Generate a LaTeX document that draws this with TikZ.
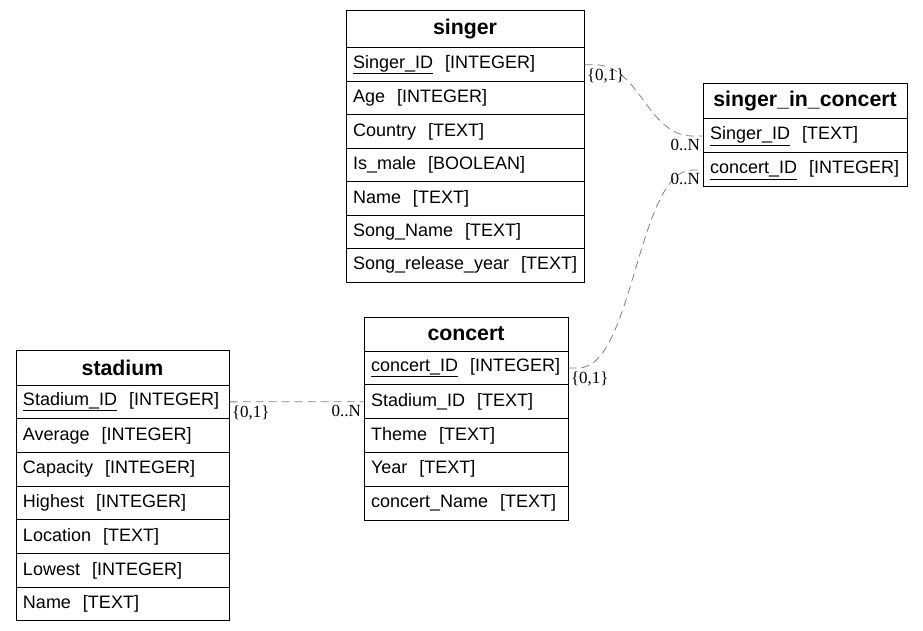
\documentclass[tikz,border=0pt]{standalone}
\usepackage{fontspec}
\setmainfont{Liberation Sans}
\newfontfamily\cardfont{Liberation Serif}
\usetikzlibrary{positioning}

\begin{document}
\begin{tikzpicture}[
  x=1pt, y=-1pt,
  line width=1pt,
  tbltitle/.style={rectangle, draw=black, inner xsep=7pt, inner ysep=0pt, font=\fontsize{21.3}{24}\selectfont\bfseries},
  tblrow/.style={rectangle, draw=black, inner xsep=7pt, inner ysep=0pt, align=left, font=\fontsize{18}{22}\selectfont},
  rel/.style={draw=gray, line width=0.8pt, dash pattern=on 8pt off 5pt},
  card/.style={inner xsep=2pt, inner ysep=3pt, font=\cardfont\fontsize{17}{18}\selectfont}
]
\useasboundingbox (0,0) rectangle (923,631);

% singer
\node[tbltitle, minimum width=238pt, minimum height=37pt] (singer) at (465,29.5) {singer};
\foreach \i/\t in {1/\underline{Singer\_ID}~~[INTEGER], 2/Age~~[INTEGER], 3/Country~~[TEXT],
  4/Is\_male~~[BOOLEAN], 5/Name~~[TEXT], 6/Song\_Name~~[TEXT], 7/Song\_release\_year~~[TEXT]} {
  \node[tblrow, minimum width=238pt, text width=224pt, minimum height=33.43pt] (singer\i) at (465,{48+33.43*(\i-0.5)}) {\mbox{\t}};
}

% singer_in_concert
\node[tbltitle, minimum width=204pt, minimum height=35pt] (sic) at (805,101.5) {singer\_in\_concert};
\foreach \i/\t in {1/\underline{Singer\_ID}~~[TEXT], 2/\underline{concert\_ID}~~[INTEGER]} {
  \node[tblrow, minimum width=204pt, text width=190pt, minimum height=34pt] (sic\i) at (805,{119+34*(\i-0.5)}) {\mbox{\t}};
}

% concert
\node[tbltitle, minimum width=204pt, minimum height=34pt] (concert) at (466,334) {concert};
\foreach \i/\t in {1/\underline{concert\_ID}~~[INTEGER], 2/Stadium\_ID~~[TEXT], 3/Theme~~[TEXT],
  4/Year~~[TEXT], 5/concert\_Name~~[TEXT]} {
  \node[tblrow, minimum width=204pt, text width=190pt, minimum height=33.8pt] (concert\i) at (466,{351+33.8*(\i-0.5)}) {\mbox{\t}};
}

% stadium
\node[tbltitle, minimum width=213pt, minimum height=35pt] (stadium) at (122.5,367.5) {stadium};
\foreach \i/\t in {1/\underline{Stadium\_ID}~~[INTEGER], 2/Average~~[INTEGER], 3/Capacity~~[INTEGER],
  4/Highest~~[INTEGER], 5/Location~~[TEXT], 6/Lowest~~[INTEGER], 7/Name~~[TEXT]} {
  \node[tblrow, minimum width=213pt, text width=199pt, minimum height=33.71pt] (stadium\i) at (122.5,{385+33.71*(\i-0.5)}) {\mbox{\t}};
}

% relations
\draw[rel] (singer1.east) -- ++(10,0) .. controls +(45,0) and +(-45,0) .. ([xshift=-10pt]sic1.west) -- (sic1.west);
\draw[rel] (concert1.east) -- ++(10,0) .. controls +(55,0) and +(-55,0) .. ([xshift=-10pt]sic2.west) -- (sic2.west);
\draw[rel] (stadium1.east) -- (concert2.west);

\node[card, anchor=north west] (singer1card) at (singer1.east) {\{0,1\}};
\node[card, anchor=north east] (sic1card) at (sic1.west) {0..N};
\node[card, anchor=north west] (concert1card) at (concert1.east) {\{0,1\}};
\node[card, anchor=north east] (sic2card) at (sic2.west) {0..N};
\node[card, anchor=north west] (stadium1card) at (stadium1.east) {\{0,1\}};
\node[card, anchor=north east] (concert2card) at (concert2.west) {0..N};

\end{tikzpicture}
\end{document}
